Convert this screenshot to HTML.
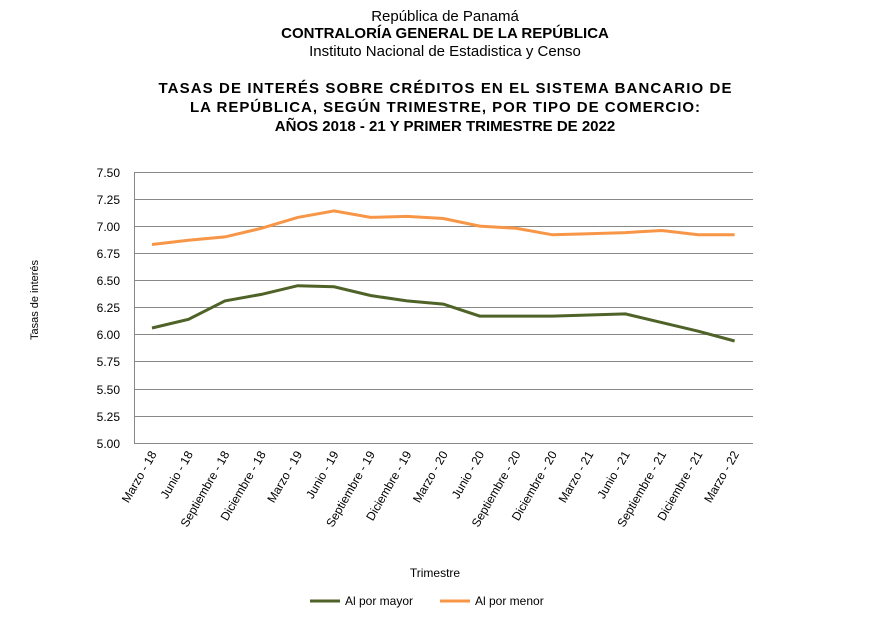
<!DOCTYPE html>
<html><head><meta charset="utf-8"><style>
body{margin:0;background:#fff;width:881px;height:627px;overflow:hidden;font-family:"Liberation Sans",sans-serif;}
</style></head><body>
<svg width="881" height="627" xmlns="http://www.w3.org/2000/svg" font-family="Liberation Sans, sans-serif">
<g text-anchor="middle" fill="#000">
<text x="445" y="21" font-size="15">República de Panamá</text>
<text x="445" y="38" font-size="15" font-weight="bold">CONTRALORÍA GENERAL DE LA REPÚBLICA</text>
<text x="445" y="56" font-size="15">Instituto  Nacional de Estadistica y Censo</text>
<text x="445" y="93" font-size="15" font-weight="bold" textLength="573">TASAS  DE  INTERÉS  SOBRE  CRÉDITOS EN  EL  SISTEMA BANCARIO DE</text>
<text x="445" y="112" font-size="15" font-weight="bold" textLength="510">LA REPÚBLICA,  SEGÚN  TRIMESTRE, POR  TIPO DE COMERCIO:</text>
<text x="445" y="131" font-size="15" font-weight="bold">AÑOS 2018 - 21 Y PRIMER TRIMESTRE DE 2022</text>
</g>
<g stroke="#888" stroke-width="1">
<line x1="134" y1="172.5" x2="753" y2="172.5"/>
<line x1="134" y1="199.5" x2="753" y2="199.5"/>
<line x1="134" y1="226.5" x2="753" y2="226.5"/>
<line x1="134" y1="253.5" x2="753" y2="253.5"/>
<line x1="134" y1="280.5" x2="753" y2="280.5"/>
<line x1="134" y1="307.5" x2="753" y2="307.5"/>
<line x1="134" y1="334.5" x2="753" y2="334.5"/>
<line x1="134" y1="361.5" x2="753" y2="361.5"/>
<line x1="134" y1="389.5" x2="753" y2="389.5"/>
<line x1="134" y1="416.5" x2="753" y2="416.5"/>
<line x1="134" y1="443.5" x2="753" y2="443.5"/>
<line x1="134.5" y1="172" x2="134.5" y2="443"/>
</g>
<g font-size="12" text-anchor="end" fill="#000">
<text x="120" y="177">7.50</text><text x="120" y="204">7.25</text><text x="120" y="231">7.00</text>
<text x="120" y="258">6.75</text><text x="120" y="285">6.50</text><text x="120" y="312">6.25</text>
<text x="120" y="339">6.00</text><text x="120" y="366">5.75</text><text x="120" y="394">5.50</text>
<text x="120" y="421">5.25</text><text x="120" y="448">5.00</text>
</g>
<text transform="translate(38,300) rotate(-90)" font-size="11" text-anchor="middle">Tasas de interés</text>
<g font-size="12" text-anchor="end" fill="#000">
<text transform="translate(157,454) rotate(-60)">Marzo - 18</text>
<text transform="translate(193.4,454) rotate(-60)">Junio - 18</text>
<text transform="translate(229.8,454) rotate(-60)">Septiembre - 18</text>
<text transform="translate(266.2,454) rotate(-60)">Diciembre - 18</text>
<text transform="translate(302.6,454) rotate(-60)">Marzo - 19</text>
<text transform="translate(339,454) rotate(-60)">Junio - 19</text>
<text transform="translate(375.4,454) rotate(-60)">Septiembre - 19</text>
<text transform="translate(411.8,454) rotate(-60)">Diciembre - 19</text>
<text transform="translate(448.2,454) rotate(-60)">Marzo - 20</text>
<text transform="translate(484.6,454) rotate(-60)">Junio - 20</text>
<text transform="translate(521,454) rotate(-60)">Septiembre - 20</text>
<text transform="translate(557.4,454) rotate(-60)">Diciembre - 20</text>
<text transform="translate(593.8,454) rotate(-60)">Marzo - 21</text>
<text transform="translate(630.2,454) rotate(-60)">Junio - 21</text>
<text transform="translate(666.6,454) rotate(-60)">Septiembre - 21</text>
<text transform="translate(703,454) rotate(-60)">Diciembre - 21</text>
<text transform="translate(739.4,454) rotate(-60)">Marzo - 22</text>
</g>
<text x="435" y="577" font-size="12" text-anchor="middle">Trimestre</text>
<polyline fill="none" stroke="#F79646" stroke-width="3" points="152,244.5 188.5,240.2 224.9,236.9 261.3,228.3 297.7,217.4 334.1,210.9 370.5,217.4 406.9,216.4 443.3,218.5 479.7,226.1 516.1,228.3 552.5,234.8 589,233.7 625.4,232.6 661.8,230.5 698.2,234.8 734.6,234.8"/>
<polyline fill="none" stroke="#4F6228" stroke-width="3" points="152,328 188.5,319.3 224.9,300.9 261.3,294.4 297.7,285.7 334.1,286.8 370.5,295.5 406.9,300.9 443.3,304.1 479.7,316.1 516.1,316.1 552.5,316.1 589,315 625.4,313.9 661.8,322.6 698.2,331.2 734.6,341"/>
<line x1="310" y1="601" x2="340" y2="601" stroke="#4F6228" stroke-width="3"/>
<text x="345" y="605" font-size="12">Al por mayor</text>
<line x1="440" y1="601" x2="470" y2="601" stroke="#F79646" stroke-width="3"/>
<text x="475" y="605" font-size="12">Al por menor</text>
</svg>
</body></html>
